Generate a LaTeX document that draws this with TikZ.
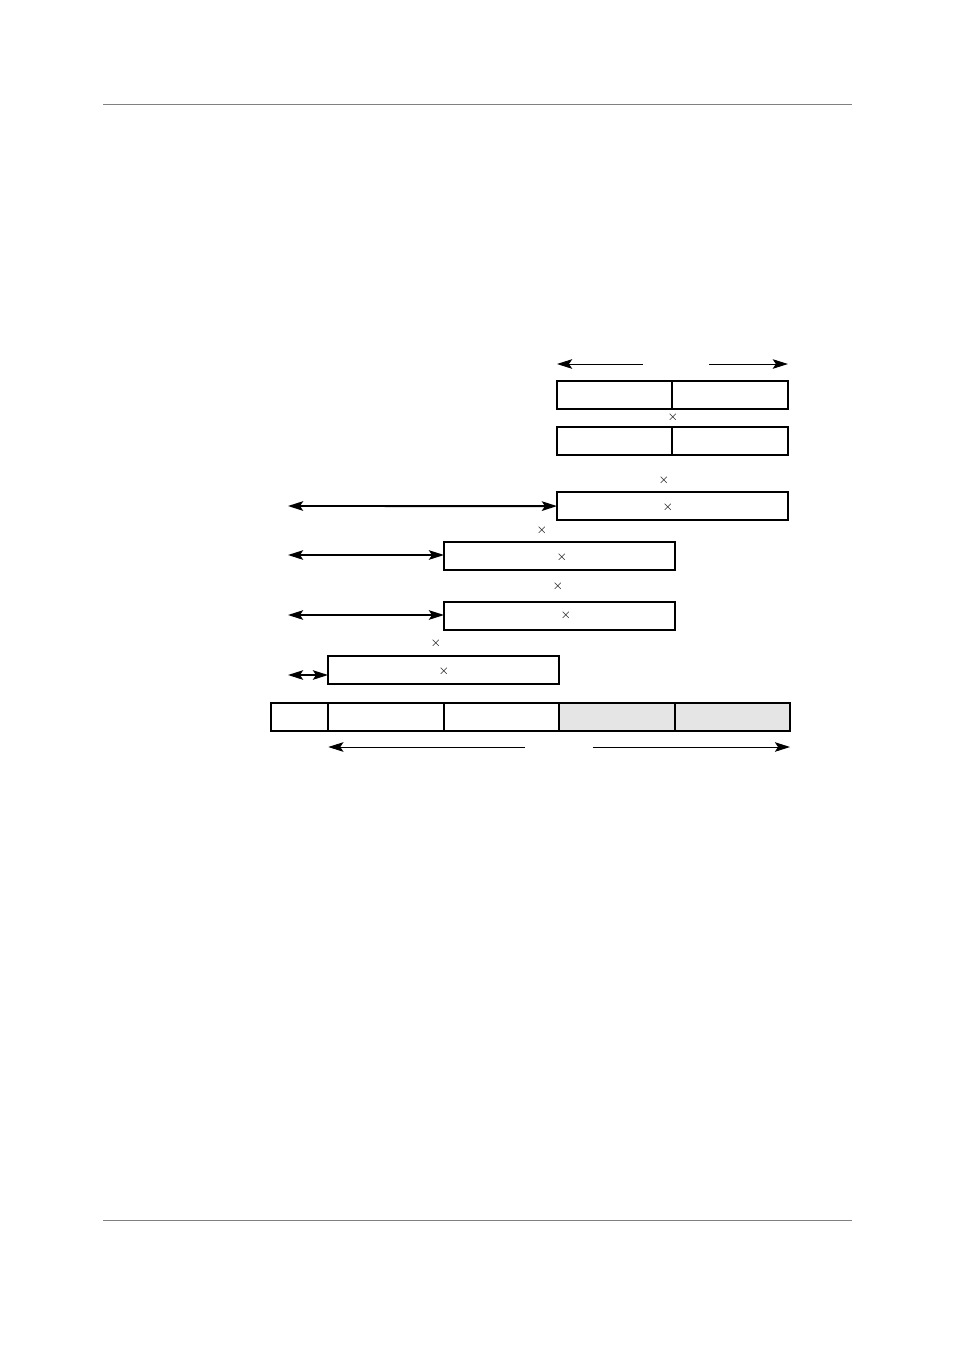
\documentclass[tikz,border=0pt]{standalone}
\usepackage{amsmath}
\usepackage{tikz}
\usetikzlibrary{positioning,arrows.meta}

\begin{document}
\begin{tikzpicture}[x=0.022cm,y=-0.022cm,
	cell/.style={draw,line width=1.2pt,minimum width=2.54cm,minimum height=0.62cm,inner sep=0pt,outer sep=0pt},
	wide/.style={cell,minimum width=5.08cm},
	shaded/.style={cell,fill=gray!20},
	mul/.style={inner sep=0pt,font=\footnotesize},
	span/.style={{Stealth[length=9.5pt,width=6pt,inset=2pt]}-{Stealth[length=9.5pt,width=6pt,inset=2pt]},line width=0.9pt},
	half/.style={-{Stealth[length=9.5pt,width=6pt,inset=2pt]},line width=0.6pt},
	rule/.style={gray,line width=0.6pt},
	]
	\useasboundingbox[fill=white] (0,0) rectangle (954,1351);
	%page rules
	\coordinate (h1) at (103,104);
	\coordinate (h2) at (852,104);
	\coordinate (f1) at (103,1220);
	\coordinate (f2) at (852,1220);
	\draw[rule] (h1) -- (h2);
	\draw[rule] (f1) -- (f2);
	%operands
	\node[cell,anchor=north west] (t1a) at (557,381) {};
	\node[cell,right=0pt of t1a] (t1b) {};
	\node[cell,anchor=north west] (t2a) at (557,427) {};
	\node[cell,right=0pt of t2a] (t2b) {};
	\coordinate (tl) at (643,364);
	\coordinate (tr) at (709,364);
	\draw[half] (tl) -- (tl -| t1a.west);
	\draw[half] (tr) -- (tr -| t1b.east);
	%partial products
	\node[wide,anchor=north west] (r3) at (557,492) {};
	\node[wide,anchor=north west] (r4) at (444,542) {};
	\node[wide,anchor=north west] (r5) at (444,602) {};
	\node[wide,anchor=north west] (r6) at (328,656) {};
	\node[mul] (m1) at (673,417) {$\times$};
	\node[mul] (m2) at (664,480) {$\times$};
	\node[mul] (m3) at (668,507) {$\times$};
	\node[mul] (m4) at (542,530) {$\times$};
	\node[mul] (m5) at (562,557) {$\times$};
	\node[mul] (m6) at (558,586) {$\times$};
	\node[mul] (m7) at (566,615) {$\times$};
	\node[mul] (m8) at (436,643) {$\times$};
	\node[mul] (m9) at (444,671) {$\times$};
	%shifts
	\coordinate (a3) at (288,506);
	\coordinate (a4) at (288,555);
	\coordinate (a5) at (288,615);
	\coordinate (a6) at (288,675);
	\draw[span,line width=1.2pt] (a3) -- (r3.west);
	\draw[span] (a4) -- (a4 -| r4.west);
	\draw[span] (a5) -- (a5 -| r5.west);
	\draw[span] (a6) -- (a6 -| r6.west);
	%result
	\node[cell,minimum width=1.26cm,anchor=north west] (p0) at (271,703) {};
	\node[cell,right=0pt of p0] (p1) {};
	\node[cell,right=0pt of p1] (p2) {};
	\node[shaded,right=0pt of p2] (p3) {};
	\node[shaded,right=0pt of p3] (p4) {};
	\coordinate (b1) at (525,747);
	\coordinate (b2) at (593,747);
	\draw[half] (b1) -- (b1 -| p1.west);
	\draw[half] (b2) -- (b2 -| p4.east);
\end{tikzpicture}
\end{document}
